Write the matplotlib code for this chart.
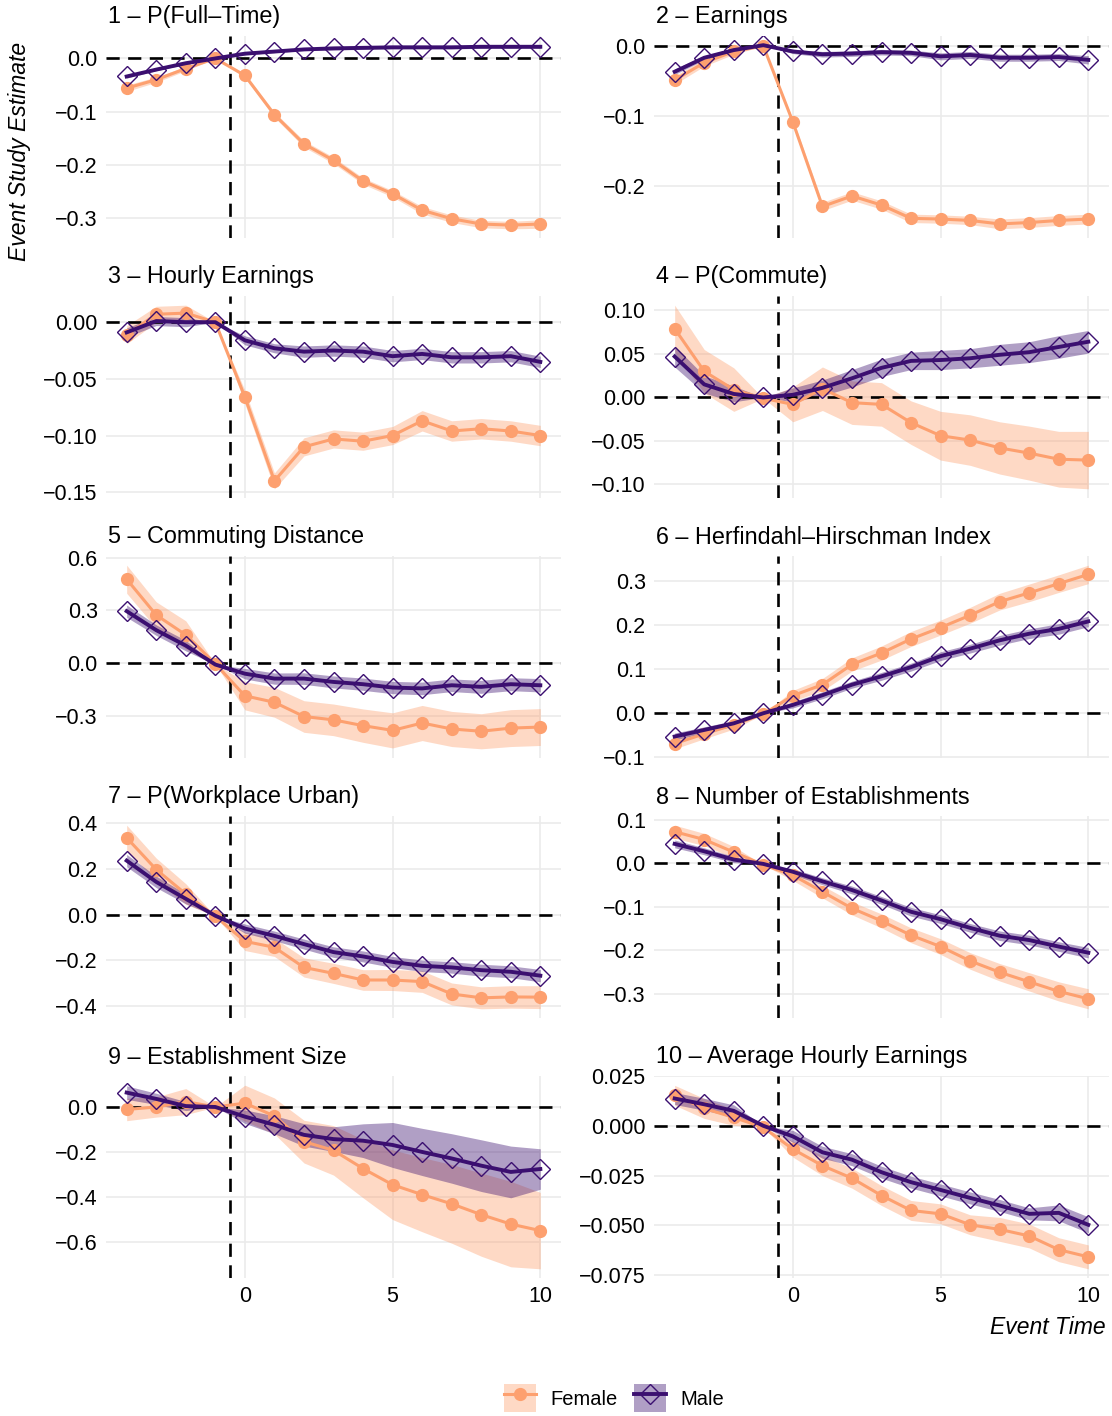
import numpy as np
import matplotlib
matplotlib.use("Agg")
import matplotlib.pyplot as plt
from matplotlib.patches import Patch
from matplotlib.lines import Line2D

plt.rcParams['font.family'] = ['Liberation Sans', 'DejaVu Sans']

# Event time
event_time = list(range(-4, 11))

# Panel titles and y tick labels
titles = ["1 – P(Full–Time)", "2 – Earnings", "3 – Hourly Earnings", "4 – P(Commute)",
          "5 – Commuting Distance", "6 – Herfindahl–Hirschman Index", "7 – P(Workplace Urban)",
          "8 – Number of Establishments", "9 – Establishment Size", "10 – Average Hourly Earnings"]
yticks = [[0.0, -0.1, -0.2, -0.3], [0.0, -0.1, -0.2], [0.0, -0.05, -0.10, -0.15],
          [0.10, 0.05, 0.0, -0.05, -0.10], [0.6, 0.3, 0.0, -0.3], [0.3, 0.2, 0.1, 0.0, -0.1],
          [0.4, 0.2, 0.0, -0.2, -0.4], [0.1, 0.0, -0.1, -0.2, -0.3], [0.0, -0.2, -0.4, -0.6],
          [0.025, 0.0, -0.025, -0.050, -0.075]]
ydecimals = [1, 1, 2, 2, 1, 1, 1, 1, 1, 3]

# Estimates (female / male) and half-widths of the confidence bands
f1 = [-0.056, -0.040, -0.019, 0.0, -0.032, -0.106, -0.161, -0.192, -0.231, -0.255, -0.286, -0.302, -0.312, -0.314, -0.312]
f1_ci = [0.006, 0.005, 0.004, 0, 0.004, 0.005, 0.006, 0.006, 0.006, 0.006, 0.007, 0.007, 0.007, 0.007, 0.008]
m1 = [-0.034, -0.021, -0.009, 0.0, 0.009, 0.013, 0.017, 0.019, 0.020, 0.021, 0.021, 0.021, 0.022, 0.022, 0.022]
m1_ci = [0.003, 0.002, 0.002, 0, 0.002, 0.002, 0.002, 0.003, 0.003, 0.003, 0.003, 0.003, 0.003, 0.003, 0.003]

f2 = [-0.049, -0.024, -0.008, 0.0, -0.109, -0.230, -0.215, -0.228, -0.247, -0.248, -0.250, -0.255, -0.253, -0.250, -0.248]
f2_ci = [0.006, 0.005, 0.004, 0, 0.004, 0.006, 0.006, 0.006, 0.006, 0.006, 0.006, 0.007, 0.007, 0.007, 0.007]
m2 = [-0.037, -0.017, -0.006, 0.001, -0.008, -0.012, -0.011, -0.009, -0.010, -0.015, -0.013, -0.017, -0.017, -0.016, -0.020]
m2_ci = [0.004, 0.003, 0.003, 0, 0.003, 0.004, 0.004, 0.004, 0.004, 0.005, 0.005, 0.005, 0.005, 0.005, 0.006]

f3 = [-0.011, 0.007, 0.008, 0.0, -0.066, -0.140, -0.110, -0.103, -0.105, -0.100, -0.087, -0.096, -0.094, -0.096, -0.100]
f3_ci = [0.008, 0.007, 0.007, 0, 0.006, 0.007, 0.008, 0.008, 0.008, 0.008, 0.009, 0.009, 0.009, 0.009, 0.009]
m3 = [-0.009, 0.001, 0.0, 0.0, -0.016, -0.023, -0.026, -0.025, -0.026, -0.030, -0.028, -0.031, -0.031, -0.030, -0.035]
m3_ci = [0.004, 0.004, 0.004, 0, 0.004, 0.004, 0.005, 0.005, 0.005, 0.005, 0.005, 0.005, 0.005, 0.005, 0.005]

f4 = [0.079, 0.030, 0.009, -0.001, -0.008, 0.010, -0.006, -0.008, -0.029, -0.044, -0.049, -0.058, -0.064, -0.071, -0.072]
f4_ci = [0.027, 0.025, 0.025, 0, 0.020, 0.025, 0.025, 0.025, 0.025, 0.028, 0.029, 0.030, 0.031, 0.032, 0.033]
m4 = [0.047, 0.015, 0.004, 0.0, 0.003, 0.011, 0.022, 0.034, 0.042, 0.043, 0.045, 0.049, 0.052, 0.058, 0.064]
m4_ci = [0.012, 0.010, 0.009, 0, 0.008, 0.009, 0.010, 0.010, 0.010, 0.011, 0.011, 0.012, 0.012, 0.013, 0.013]

f5 = [0.478, 0.274, 0.161, -0.004, -0.186, -0.223, -0.304, -0.323, -0.356, -0.383, -0.341, -0.375, -0.388, -0.370, -0.364]
f5_ci = [0.080, 0.075, 0.080, 0, 0.080, 0.085, 0.090, 0.090, 0.095, 0.100, 0.100, 0.100, 0.100, 0.105, 0.105]
m5 = [0.296, 0.188, 0.100, -0.008, -0.060, -0.088, -0.088, -0.107, -0.120, -0.139, -0.144, -0.126, -0.135, -0.120, -0.126]
m5_ci = [0.035, 0.030, 0.030, 0, 0.030, 0.032, 0.033, 0.034, 0.035, 0.035, 0.036, 0.036, 0.037, 0.037, 0.038]

f6 = [-0.069, -0.047, -0.026, -0.002, 0.040, 0.065, 0.111, 0.137, 0.169, 0.195, 0.223, 0.254, 0.274, 0.295, 0.316]
f6_ci = [0.012, 0.011, 0.010, 0, 0.012, 0.014, 0.015, 0.016, 0.017, 0.017, 0.018, 0.019, 0.020, 0.020, 0.021]
m6 = [-0.053, -0.038, -0.023, 0.0, 0.019, 0.041, 0.065, 0.084, 0.105, 0.130, 0.147, 0.166, 0.181, 0.192, 0.209]
m6_ci = [0.008, 0.007, 0.006, 0, 0.007, 0.008, 0.008, 0.009, 0.009, 0.010, 0.010, 0.011, 0.011, 0.012, 0.012]

f7 = [0.336, 0.197, 0.090, -0.007, -0.117, -0.143, -0.231, -0.257, -0.286, -0.286, -0.293, -0.347, -0.364, -0.360, -0.361]
f7_ci = [0.055, 0.050, 0.045, 0, 0.040, 0.040, 0.042, 0.044, 0.045, 0.046, 0.047, 0.048, 0.048, 0.049, 0.050]
m7 = [0.236, 0.143, 0.069, -0.005, -0.061, -0.093, -0.129, -0.164, -0.183, -0.207, -0.224, -0.231, -0.243, -0.250, -0.267]
m7_ci = [0.027, 0.025, 0.022, 0, 0.020, 0.021, 0.022, 0.023, 0.024, 0.024, 0.025, 0.025, 0.026, 0.026, 0.027]

f8 = [0.072, 0.054, 0.025, -0.004, -0.028, -0.066, -0.104, -0.133, -0.166, -0.192, -0.225, -0.251, -0.273, -0.295, -0.312]
f8_ci = [0.015, 0.014, 0.013, 0, 0.012, 0.014, 0.015, 0.016, 0.017, 0.018, 0.019, 0.020, 0.021, 0.022, 0.023]
m8 = [0.044, 0.027, 0.008, -0.002, -0.020, -0.042, -0.062, -0.086, -0.112, -0.129, -0.149, -0.167, -0.177, -0.192, -0.206]
m8_ci = [0.009, 0.008, 0.007, 0, 0.007, 0.008, 0.009, 0.009, 0.010, 0.010, 0.010, 0.011, 0.011, 0.011, 0.012]

f9 = [-0.011, 0.0, 0.024, 0.0, 0.017, -0.040, -0.154, -0.193, -0.274, -0.346, -0.390, -0.431, -0.479, -0.521, -0.550]
f9_ci = [0.050, 0.045, 0.058, 0, 0.080, 0.080, 0.095, 0.110, 0.130, 0.155, 0.165, 0.175, 0.185, 0.190, 0.170]
m9 = [0.064, 0.036, 0.004, 0.0, -0.043, -0.079, -0.124, -0.143, -0.150, -0.169, -0.200, -0.229, -0.261, -0.289, -0.276]
m9_ci = [0.030, 0.025, 0.020, 0, 0.030, 0.040, 0.050, 0.055, 0.075, 0.100, 0.105, 0.110, 0.115, 0.115, 0.090]

f10 = [0.0153, 0.0087, 0.0042, -0.0008, -0.0117, -0.0200, -0.0263, -0.0350, -0.0425, -0.0442, -0.0497, -0.0520, -0.0553, -0.0622, -0.0658]
f10_ci = [0.005, 0.005, 0.004, 0, 0.004, 0.005, 0.005, 0.005, 0.005, 0.005, 0.005, 0.006, 0.006, 0.006, 0.006]
m10 = [0.0137, 0.0108, 0.0075, 0.0, -0.0053, -0.0133, -0.0170, -0.0233, -0.0283, -0.0322, -0.0362, -0.0400, -0.0442, -0.0437, -0.0497]
m10_ci = [0.003, 0.003, 0.003, 0, 0.003, 0.003, 0.003, 0.003, 0.003, 0.003, 0.003, 0.003, 0.003, 0.004, 0.004]

female = [f1, f2, f3, f4, f5, f6, f7, f8, f9, f10]
female_ci = [f1_ci, f2_ci, f3_ci, f4_ci, f5_ci, f6_ci, f7_ci, f8_ci, f9_ci, f10_ci]
male = [m1, m2, m3, m4, m5, m6, m7, m8, m9, m10]
male_ci = [m1_ci, m2_ci, m3_ci, m4_ci, m5_ci, m6_ci, m7_ci, m8_ci, m9_ci, m10_ci]

FEM = '#FDA06F'
MAL = '#3B0F70'
GRID = '#EBEBEB'

W, H = 1112, 1416
fig = plt.figure(figsize=(W / 100, H / 100), dpi=100)

x = np.array(event_time)
col_left = [106, 654]
panel_w = 455
panel_h = 202

for i in range(10):
    row, col = divmod(i, 2)
    top = 36 + 260 * row
    ax = fig.add_axes([col_left[col] / W, 1 - (top + panel_h) / H, panel_w / W, panel_h / H])
    f = np.array(female[i]); fc = np.array(female_ci[i])
    m = np.array(male[i]); mc = np.array(male_ci[i])

    ax.fill_between(x, f - fc, f + fc, color=FEM, alpha=0.4, lw=0, zorder=2)
    ax.fill_between(x, m - mc, m + mc, color=MAL, alpha=0.4, lw=0, zorder=2)
    ax.axhline(0, color='black', lw=1.9, dashes=(5, 3.2), zorder=3)
    ax.axvline(-0.5, color='black', lw=1.9, dashes=(5, 3.2), zorder=3)
    ax.plot(x, f, color=FEM, lw=2.2, marker='o', ms=8.5, zorder=4)
    ax.plot(x, m, color=MAL, lw=2.8, zorder=5)
    ax.plot(x, m, ls='none', marker='D', ms=10.5, mfc='none', mec=MAL, mew=1.0, zorder=6)

    lo = min((f - fc).min(), (m - mc).min(), 0)
    hi = max((f + fc).max(), (m + mc).max(), 0)
    pad = (hi - lo) * 0.05
    ax.set_ylim(lo - pad, hi + pad)
    ax.set_xlim(-4.7, 10.7)

    ax.set_xticks([0, 5, 10])
    ax.set_yticks(yticks[i])
    ax.set_yticklabels([f"{v:.{ydecimals[i]}f}".replace('-', '\u2212') if abs(v) > 1e-12
                        else f"{0:.{ydecimals[i]}f}" for v in yticks[i]])
    if row < 4:
        ax.set_xticklabels([])
    ax.tick_params(length=0, labelsize=15.5, pad=6, colors='black')
    ax.grid(True, color=GRID, lw=1.2, zorder=0)
    ax.set_axisbelow(True)
    for s in ax.spines.values():
        s.set_visible(False)
    ax.set_title(titles[i], loc='left', fontsize=16.8, pad=9, x=0.004)

fig.text(20 / W, 1 - 151 / H, 'Event Study Estimate', rotation=90, style='italic',
         fontsize=16.5, ha='center', va='center')
fig.text(1106 / W, 1 - 1327 / H, 'Event Time', style='italic', fontsize=16.5,
         ha='right', va='center')

h_f = (Patch(facecolor=FEM, alpha=0.4, lw=0),
       Line2D([], [], color=FEM, lw=2.2, marker='o', ms=8.5))
h_m = (Patch(facecolor=MAL, alpha=0.4, lw=0),
       Line2D([], [], color=MAL, lw=2.8, marker='D', ms=10.5, mfc='none', mew=1.0))
fig.legend([h_f, h_m], ['Female', 'Male'], loc='center', bbox_to_anchor=(614 / W, 1 - 1398 / H),
           ncol=2, frameon=False, fontsize=14.5, handlelength=1.6, handleheight=1.7,
           handletextpad=0.7, columnspacing=0.8)

fig.savefig('out.png', dpi=100)
